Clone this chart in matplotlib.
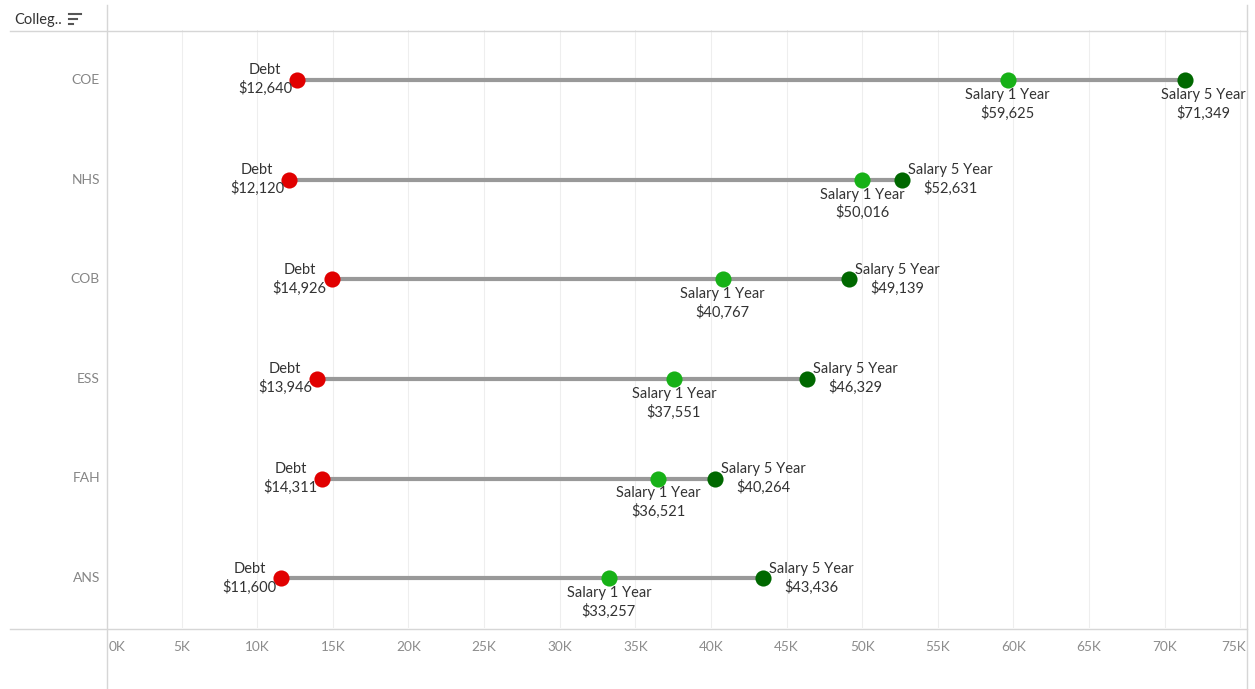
import matplotlib.pyplot as plt
from matplotlib.lines import Line2D

plt.rcParams['font.family'] = ['Lato', 'DejaVu Sans']

colleges = ["COE", "NHS", "COB", "ESS", "FAH", "ANS"]
debt = [12640, 12120, 14926, 13946, 14311, 11600]
salary_1yr = [59625, 50016, 40767, 37551, 36521, 33257]
salary_5yr = [71349, 52631, 49139, 46329, 40264, 43436]
tick_values = list(range(0, 75001, 5000))
tick_labels = [f"{v // 1000}K" for v in tick_values]

W, H = 1255, 689
fig = plt.figure(figsize=(W / 100, H / 100), dpi=100)


def fx(x):
    return x / W


def fy(y):
    return 1 - y / H


def fig_line(x0, y0, x1, y1, color="#d6d6d6", lw=1.0):
    fig.add_artist(Line2D([fx(x0), fx(x1)], [fy(y0), fy(y1)],
                          transform=fig.transFigure, color=color, lw=lw))


ax = fig.add_axes([fx(106), fy(628), fx(1247 - 106), (628 - 30) / H])
ax.set_xlim(0, 75450)
ax.set_ylim(len(colleges) - 0.5, -0.5)
for s in ax.spines.values():
    s.set_visible(False)
ax.set_xticks([])
ax.set_yticks([])

for v in tick_values[1:]:
    ax.axvline(v, color="#eeeeee", lw=0.8, zorder=0)

red = "#e10000"
green = "#17b117"
dark_green = "#006800"
txt = "#333333"
fs = 10.5
ls = 1.3

for i, name in enumerate(colleges):
    d, s1, s5 = debt[i], salary_1yr[i], salary_5yr[i]
    ax.plot([d, max(s1, s5)], [i, i], color="#999999", lw=3, zorder=1,
            solid_capstyle="butt")
    ax.scatter([d], [i], s=135, color=red, zorder=3, linewidths=0)
    ax.scatter([s1], [i], s=135, color=green, zorder=3, linewidths=0)
    ax.scatter([s5], [i], s=135, color=dark_green, zorder=3, linewidths=0)

    ax.annotate(f"Debt\n${d:,}", (d, i), xytext=(-5, 0), textcoords="offset pixels",
                ha="right", va="center", multialignment="center",
                fontsize=fs, color=txt, linespacing=ls, zorder=4)
    ax.annotate(f"Salary 1 Year\n${s1:,}", (s1, i), xytext=(0, -8),
                textcoords="offset pixels", ha="center", va="top",
                multialignment="center", fontsize=fs, color=txt,
                linespacing=ls, zorder=4)
    if s5 > 70000:
        # no room on the right, Tableau drops it below and keeps it inside
        ax.annotate(f"Salary 5 Year\n${s5:,}", (ax.get_xlim()[1], i),
                    xytext=(-1, -8), textcoords="offset pixels", ha="right",
                    va="top", multialignment="center", fontsize=fs, color=txt,
                    linespacing=ls, zorder=4)
    else:
        ax.annotate(f"Salary 5 Year\n${s5:,}", (s5, i), xytext=(6, 0),
                    textcoords="offset pixels", ha="left", va="center",
                    multialignment="center", fontsize=fs, color=txt,
                    linespacing=ls, zorder=4)

    ax.text(-6 / (1247 - 106), i, name, transform=ax.get_yaxis_transform(),
            ha="right", va="center", fontsize=10, color="#858585")

# x tick labels (Tableau keeps the edge labels inside the pane)
for v, lab in zip(tick_values, tick_labels):
    ha = "center"
    xt = v
    if v == 0:
        ha = "left"
        xt = 180
    elif v == tick_values[-1]:
        ha = "right"
        xt = 75380
    ax.text(xt, -19 / (628 - 30), lab, transform=ax.get_xaxis_transform(),
            ha=ha, va="center", fontsize=9.8, color="#8c8c8c")

# frame lines
fig_line(10, 31, 1247, 31)
fig_line(10, 629, 1247, 629)
fig_line(107, 5, 107, 689)
fig_line(1247, 5, 1247, 689)

# header
fig.text(fx(14), fy(20), "Colleg..", ha="left", va="center", fontsize=10.5,
         color=txt)
for k, length in enumerate([12, 8, 4]):
    fig_line(69, 14 + 5 * k, 69 + length, 14 + 5 * k, color="#555555", lw=1.5)

fig.savefig("out.png", dpi=100)
